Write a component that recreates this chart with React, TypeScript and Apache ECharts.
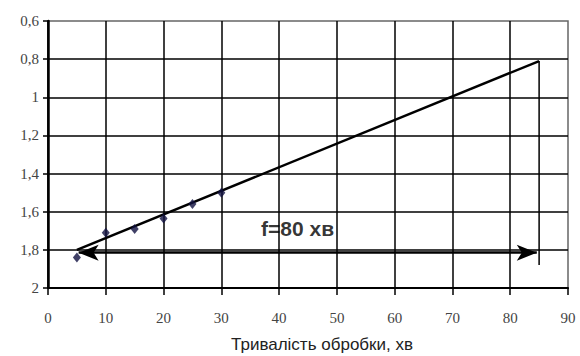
import React, { useEffect, useRef } from "react";
import * as echarts from "echarts";

const xMinutes = [5, 10, 15, 20, 25, 30];
const yValues = [1.84, 1.71, 1.69, 1.635, 1.56, 1.5];
const trendLine = [[5, 1.8], [85, 0.81]];
const verticalLine = [[85, 0.81], [85, 1.88]];
const arrowFrom = [5.3, 1.815];
const arrowTo = [84.6, 1.815];
const annotation = "f=80 хв";
const annotationAt = [43.2, 1.69];
const xTitle = "Тривалість обробки, хв";

const SERIF = "Liberation Serif";

export default function App() {
  const ref = useRef<HTMLDivElement>(null);
  useEffect(() => {
    const chart = echarts.init(ref.current!, null, { renderer: "svg" });
    chart.setOption({
      animation: false,
      textStyle: { fontFamily: SERIF, fontSize: 15 },
      grid: {
        left: 48,
        right: 12,
        top: 21,
        bottom: 68,
        show: true,
        borderColor: "#666",
        borderWidth: 1.5,
        backgroundColor: "transparent",
      },
      xAxis: {
        type: "value",
        min: 0,
        max: 90,
        interval: 10,
        axisLine: { show: true, onZero: false, lineStyle: { color: "#000", width: 2 } },
        axisTick: { show: true, length: 7, lineStyle: { color: "#000", width: 1.5 } },
        axisLabel: {
          margin: 22,
          color: "#444",
          textStyle: { fontFamily: SERIF, fontSize: 15 },
          rich: { a: { fontFamily: SERIF, fontSize: 15, color: "#444" } },
          formatter: (v: number) => "{a|" + v + "}",
        },
        splitLine: { show: true, showMaxLine: false, lineStyle: { color: "#000", width: 1.5 } },
      },
      yAxis: {
        type: "value",
        inverse: true,
        min: 0.6,
        max: 2,
        interval: 0.2,
        axisLine: { show: true, onZero: false, lineStyle: { color: "#000", width: 2.5 } },
        axisTick: { show: true, length: 5, lineStyle: { color: "#000", width: 1.5 } },
        axisLabel: {
          margin: 9,
          color: "#444",
          rich: { a: { fontFamily: SERIF, fontSize: 15, color: "#444" } },
          formatter: (v: number) => "{a|" + String(Math.round(v * 10) / 10).replace(".", ",") + "}",
        },
        splitLine: { show: true, showMinLine: false, lineStyle: { color: "#000", width: 1.5 } },
      },
      graphic: [
        {
          type: "text",
          x: 322,
          y: 344,
          style: {
            text: xTitle,
            fontFamily: "Liberation Sans",
            fontSize: 17,
            fill: "#222",
            align: "center",
            verticalAlign: "middle",
          },
        },
      ],
      series: [
        {
          type: "line",
          data: trendLine,
          showSymbol: false,
          symbol: "none",
          lineStyle: { color: "#000", width: 2.5 },
          z: 3,
        },
        {
          type: "line",
          data: verticalLine,
          showSymbol: false,
          symbol: "none",
          lineStyle: { color: "#000", width: 1.5 },
          z: 3,
        },
        {
          type: "scatter",
          data: xMinutes.map((x, i) => [x, yValues[i]]),
          symbol: "diamond",
          symbolSize: [8, 10],
          itemStyle: { color: "#101040" },
          z: 4,
          markLine: {
            silent: true,
            symbol: ["arrow", "arrow"],
            symbolSize: [12, 20],
            label: { show: false },
            lineStyle: { color: "#000", width: 2.5, type: "solid" },
            data: [[{ coord: arrowFrom }, { coord: arrowTo }]],
          },
        },
        {
          type: "scatter",
          data: [annotationAt],
          symbolSize: 0,
          silent: true,
          label: {
            show: true,
            position: "inside",
            formatter: annotation,
            fontFamily: "Liberation Sans",
            fontWeight: "bold",
            fontSize: 21,
            color: "#000",
          },
          z: 5,
        },
      ],
    });
    return () => chart.dispose();
  }, []);
  return <div ref={ref} style={{ width: 580, height: 356, position: "absolute", left: 0, top: 0 }} />;
}
